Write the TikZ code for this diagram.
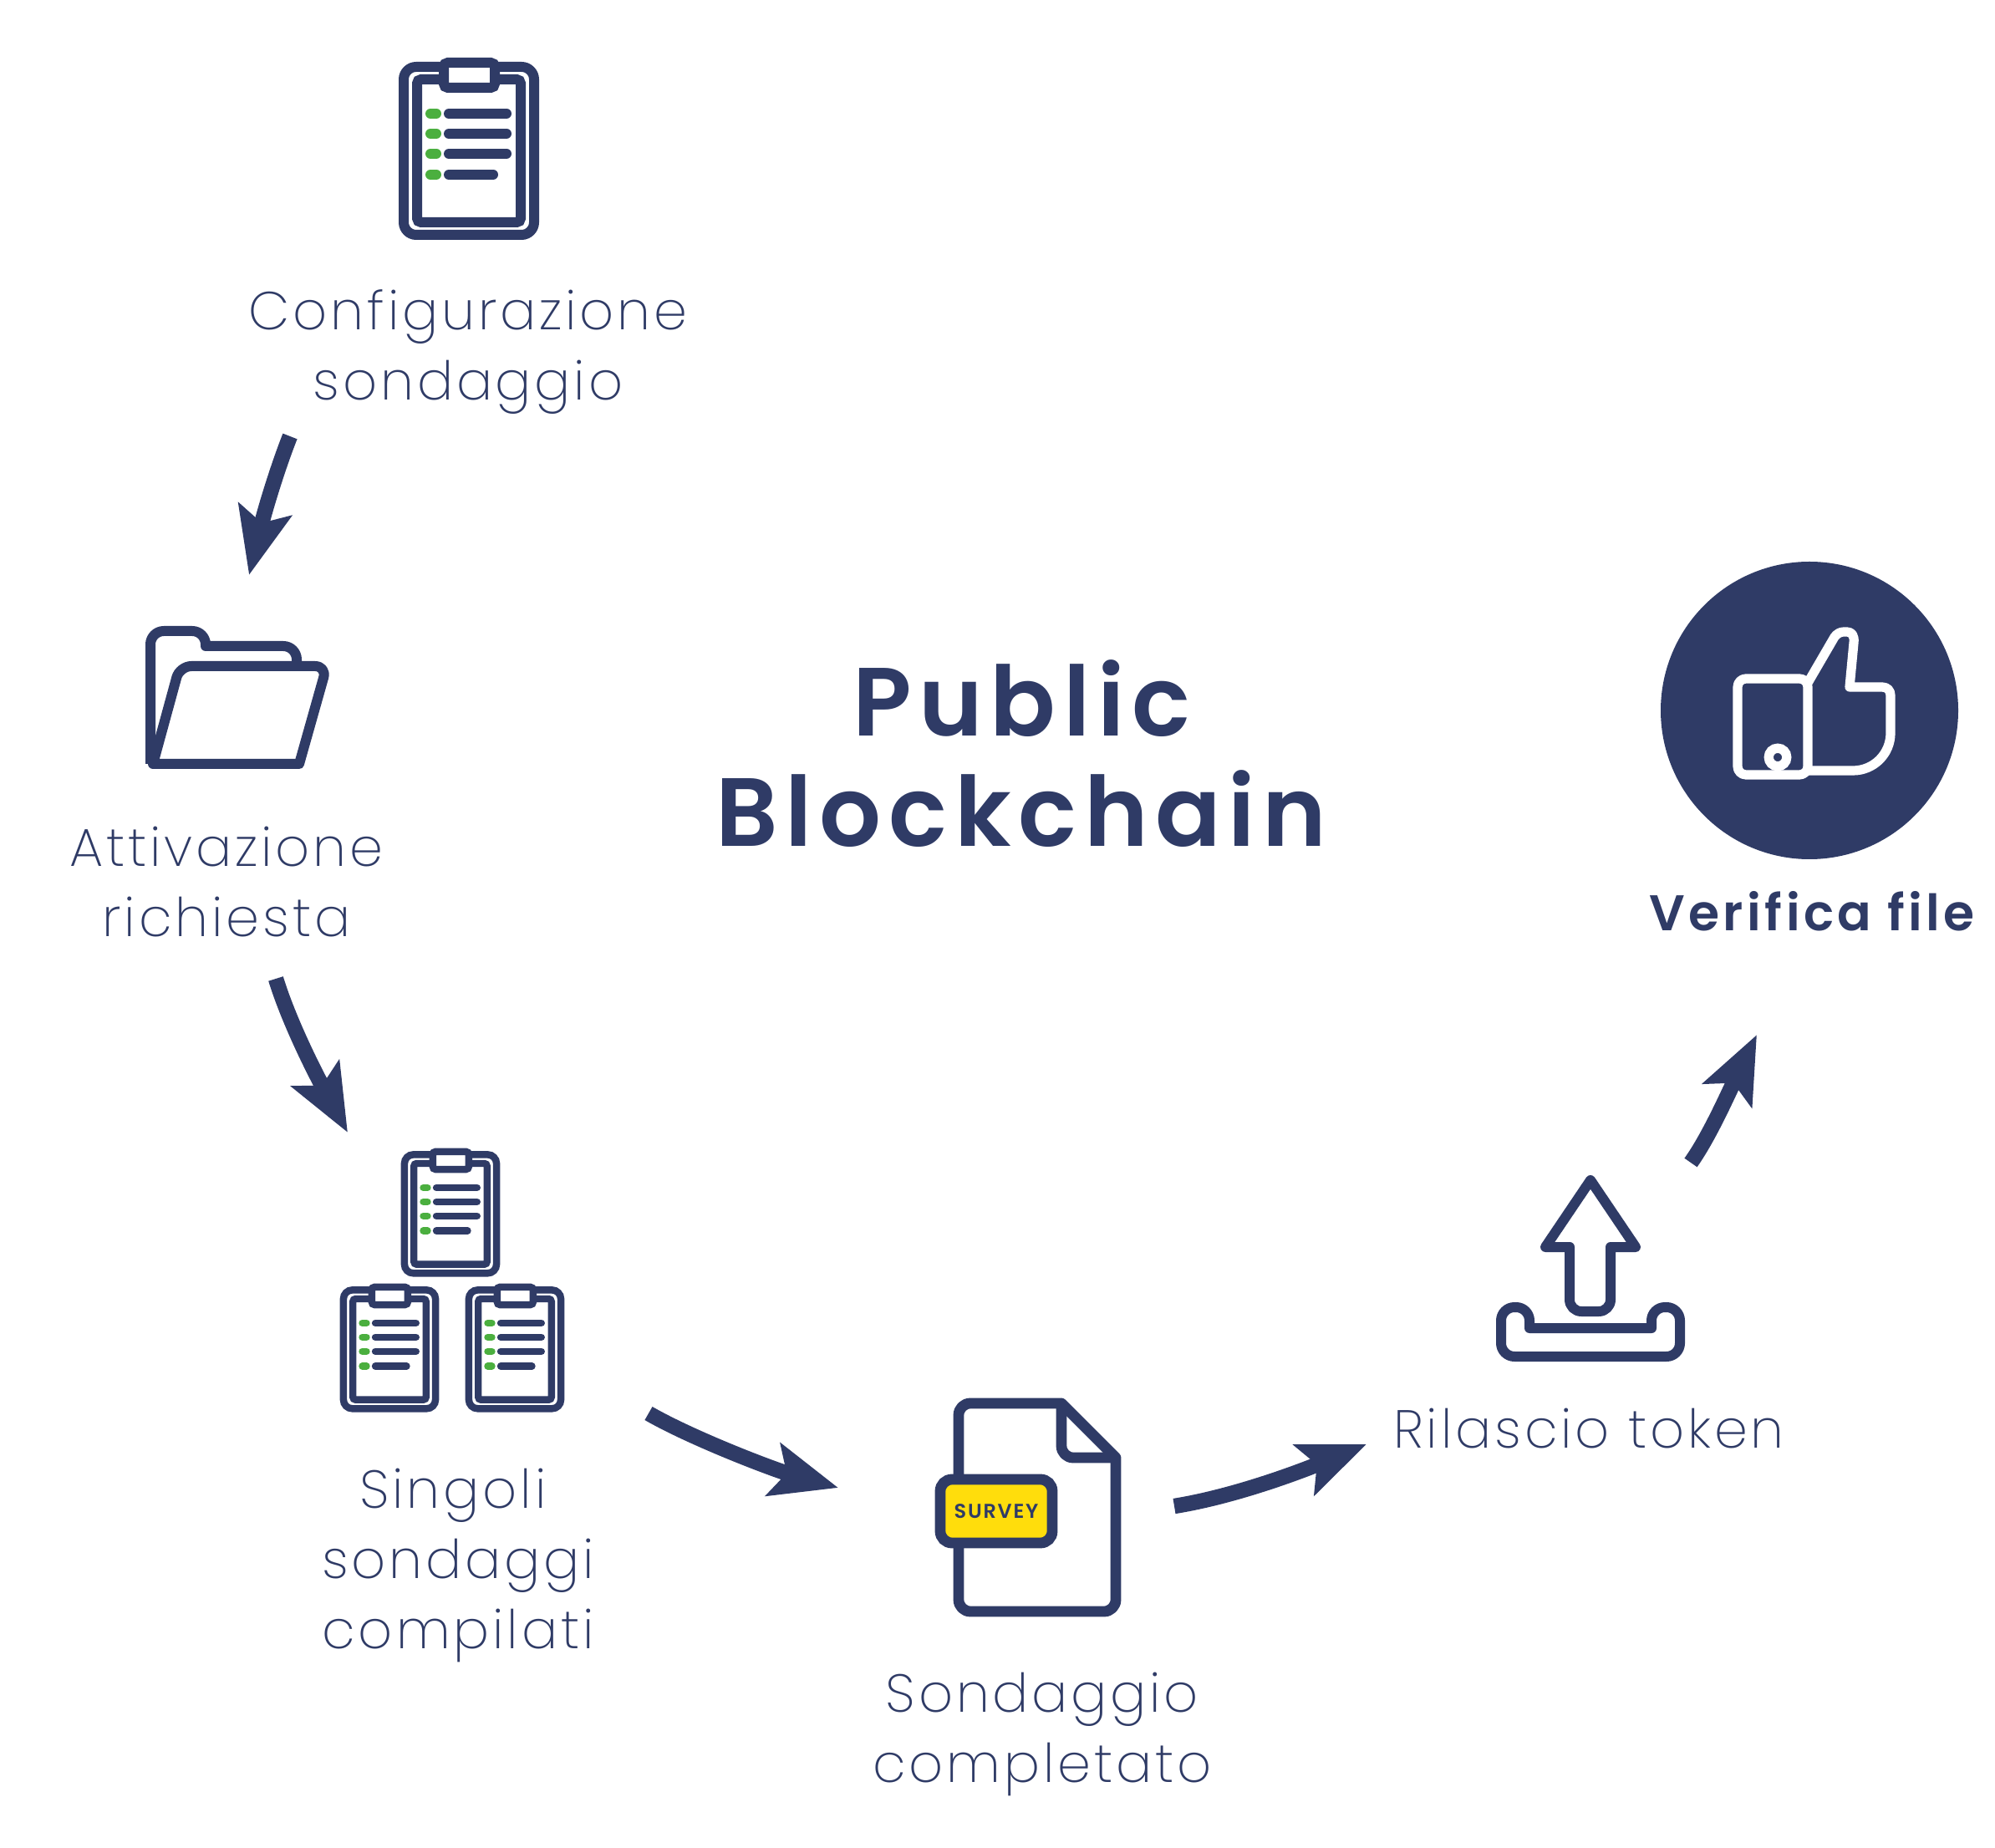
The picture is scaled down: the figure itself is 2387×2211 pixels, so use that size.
\documentclass[tikz,border=0pt]{standalone}
\usepackage{fontspec}
\usetikzlibrary{arrows.meta,positioning}
\newfontfamily\lightfont[LetterSpace=6]{Poppins ExtraLight}
\newfontfamily\boldfont[LetterSpace=7.5]{Poppins SemiBold}
\definecolor{navy}{HTML}{2F3B66}
\definecolor{leaf}{HTML}{4BAF3F}
\definecolor{tagyellow}{HTML}{FFDD0C}
\tikzset{
  steplabel/.style={align=center,text=navy,inner sep=0pt,font={\lightfont\fontsize{16}{21}\selectfont}},
  flowarrow/.style={draw=navy,line width=4.6pt,-{Stealth[length=20pt,width=16pt,inset=4pt]}},
  iconline/.style={draw=navy,line width=3pt,line join=round}
}
% one clipboard: position, scale
\newcommand{\clipboardicon}[2]{
  \begin{scope}[shift={(#1)},scale=#2,line width=#2*3pt]
    \draw[navy,rounded corners=#2*3.75pt] (-78,-100) rectangle (78,101);
    \draw[navy,rounded corners=#2*1.2pt] (-62,-85) rectangle (62,86);
    \draw[navy,fill=white,rounded corners=#2*1.2pt] (-30,-105) rectangle (31,-75);
    \draw[leaf,line cap=round] (-46,-44) -- (-39,-44);
    \draw[leaf,line cap=round] (-46,-20) -- (-39,-20);
    \draw[leaf,line cap=round] (-46,4) -- (-39,4);
    \draw[leaf,line cap=round] (-46,29) -- (-39,29);
    \draw[navy,line cap=round] (-24,-44) -- (45,-44);
    \draw[navy,line cap=round] (-24,-20) -- (45,-20);
    \draw[navy,line cap=round] (-24,4) -- (45,4);
    \draw[navy,line cap=round] (-24,29) -- (29,29);
  \end{scope}
}
\begin{document}
\begin{tikzpicture}[x=.25pt,y=-.25pt]
   \useasboundingbox (0,0) rectangle (2387,2211);
   % titles
   \node (title) [align=center,text=navy,inner sep=0pt,font={\boldfont\fontsize{29}{33}\selectfont}] at (1222,902) {Public\\Blockchain};
   \node (cfgtext) [steplabel] at (560,421) {Configurazione\\sondaggio};
   \node (reqtext) [steplabel] at (271,1055) {Attivazione\\richiesta};
   \node (singletext) [steplabel] at (548,1873) {Singoli\hspace*{3pt}\\sondaggi\\compilati};
   \node (donetext) [steplabel] at (1247,2075) {Sondaggio\\completato};
   \node (tokentext) [steplabel] at (1901,1709) {Rilascio token};
   \node (verifytext) [text=navy,inner sep=0pt,font={\boldfont\fontsize{15}{17}\selectfont}] at (2168,1090) {Verifica file};
   % clipboards
   \clipboardicon{561,180}{1}
   \clipboardicon{539,1452}{.706}
   \clipboardicon{466,1614}{.706}
   \clipboardicon{616,1614}{.706}
   % folder
   \draw[iconline] (180,914) [rounded corners=4pt] -- (180,755) -- (246,755) [sharp corners] -- (246,773) [rounded corners=4pt] -- (355,773) [sharp corners] -- (355,797);
   \draw[iconline,rounded corners=3.5pt] (183,914) -- (215,797) -- (391,797) [sharp corners] -- (358,914) -- cycle;
   % survey file
   \draw[iconline,line width=3.2pt] (1270,1679) [rounded corners=3.5pt] -- (1147,1679) -- (1147,1928) -- (1335,1928) [sharp corners] -- (1335,1744) -- cycle;
   \draw[iconline,line width=3.2pt] (1270,1679) [rounded corners=3.5pt] -- (1270,1744) [sharp corners] -- (1335,1744);
   \node (surveytag) [draw=navy,fill=tagyellow,line width=3.2pt,rounded corners=3.5pt,minimum width=33.5pt,minimum height=19pt,inner sep=0pt,text=navy,font={\boldfont\fontsize{6}{7}\selectfont}] at (1192,1808) {SURVEY};
   % upload
   \draw[iconline] (1903,1412) -- (1957,1492) -- (1927,1492) [rounded corners=3.5pt] -- (1927,1569) -- (1878,1569) [sharp corners] -- (1878,1492) -- (1849,1492) -- cycle;
   \draw[iconline] (1830,1589) -- (1976,1589) [rounded corners=4pt] -- (1976,1564) -- (2010,1564) -- (2010,1623) -- (1796,1623) -- (1796,1564) -- (1830,1564) [sharp corners] -- cycle;
   % verify disc
   \node (verifydisc) [circle,fill=navy,minimum size=89pt,inner sep=0pt] at (2165,850) {};
   \draw[white,line width=2.8pt,line join=round,rounded corners=2.5pt] (2079,812) rectangle (2163,927);
   \draw[white,line width=2.8pt,line join=round] (2163,817) -- (2195,762) .. controls (2198,758) and (2202,756) .. (2206,756) -- (2210,756) .. controls (2216,756) and (2219,761) .. (2218,769) -- (2213,822) -- (2252,822) .. controls (2258,822) and (2262,826) .. (2262,832) -- (2262,877) .. controls (2262,902) and (2242,922) .. (2217,922) -- (2163,922);
   \draw[white,line width=2.8pt] (2127,906) circle (2.7pt);
   % arrows
   \coordinate (a1s) at (347,522);
   \coordinate (a1e) at (298,688);
   \coordinate (a2s) at (330,1171);
   \coordinate (a2e) at (416,1355);
   \coordinate (a3s) at (776,1691);
   \coordinate (a3e) at (1003,1780);
   \coordinate (a4s) at (1405,1802);
   \coordinate (a4e) at (1635,1728);
   \coordinate (a5s) at (2023,1391);
   \coordinate (a5e) at (2102,1238);
   \draw[flowarrow] (a1s) .. controls (332,560) and (317,610) .. (a1e);
   \draw[flowarrow] (a2s) .. controls (345,1220) and (375,1280) .. (a2e);
   \draw[flowarrow] (a3s) .. controls (830,1722) and (928,1759) .. (a3e);
   \draw[flowarrow] (a4s) .. controls (1480,1790) and (1562,1758) .. (a4e);
   \draw[flowarrow] (a5s) .. controls (2045,1360) and (2067,1310) .. (a5e);
\end{tikzpicture}
\end{document}
